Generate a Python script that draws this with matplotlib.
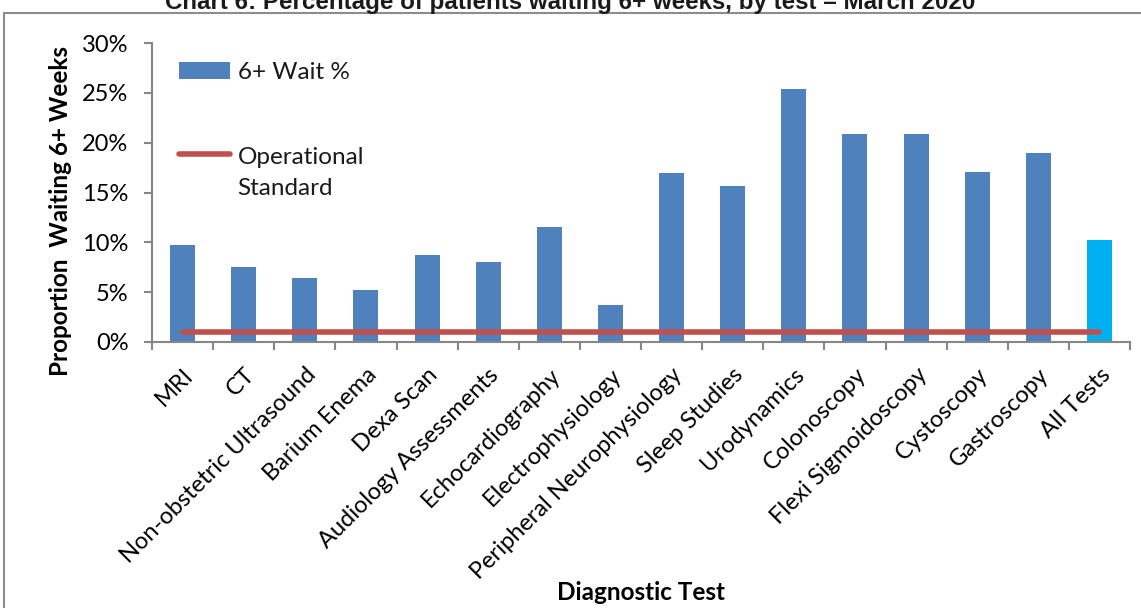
import matplotlib.pyplot as plt
from matplotlib.patches import Rectangle
from matplotlib.ticker import FuncFormatter, FixedLocator
from matplotlib.legend_handler import HandlerLine2D

tests = ["MRI", "CT", "Non-obstetric Ultrasound", "Barium Enema", "Dexa Scan",
         "Audiology Assessments", "Echocardiography", "Electrophysiology",
         "Peripheral Neurophysiology", "Sleep Studies", "Urodynamics",
         "Colonoscopy", "Flexi Sigmoidoscopy", "Cystoscopy", "Gastroscopy",
         "All Tests"]
wait_pct = [9.7, 7.5, 6.4, 5.2, 8.7, 8.0, 11.5, 3.7, 17.0, 15.7, 25.4,
            20.9, 20.9, 17.1, 19.0, 10.2]
standard = [1.0] * len(tests)


class RaisedLine(HandlerLine2D):
    # put the legend line level with the first line of a two-line label
    def __init__(self, shift, **kw):
        super().__init__(**kw)
        self.shift = shift

    def create_artists(self, legend, orig_handle, xdescent, ydescent, width,
                       height, fontsize, trans):
        return super().create_artists(legend, orig_handle, xdescent,
                                      ydescent - self.shift * fontsize, width,
                                      height, fontsize, trans)


plt.rcParams['font.family'] = ['Lato', 'DejaVu Sans']
plt.rcParams['text.color'] = '#1a1a1a'

fig = plt.figure(figsize=(11.41, 6.08), dpi=100)
ax = fig.add_axes([152 / 1141, 1 - 342 / 608, (1130 - 152) / 1141, (342 - 43) / 608])

# outer chart frame (extends past the image edges)
fig.patches.append(Rectangle((4 / 1141, -0.1), 1.1, 1 - 13 / 608 + 0.1,
                             transform=fig.transFigure, fill=False,
                             edgecolor='#8c8c8c', linewidth=1.5))

x = list(range(len(tests)))
colors = ['#4F81BD'] * (len(tests) - 1) + ['#00B0F0']
bars = ax.bar(x, wait_pct, width=0.41, color=colors, label="6+ Wait %", zorder=2)
line, = ax.plot(x, standard, color='#C0504D', linewidth=4, solid_capstyle='round',
                label="Operational\nStandard", zorder=3)

ax.set_xlim(-0.5, len(tests) - 0.5)
ax.set_ylim(0, 30)
ax.set_yticks(range(0, 31, 5))
ax.yaxis.set_major_formatter(FuncFormatter(lambda v, p: f"{int(v)}%"))
ax.set_xticks(x)
ax.set_xticklabels(tests, rotation=45, ha='right', rotation_mode='anchor',
                   fontsize=17)
ax.xaxis.set_minor_locator(FixedLocator([i - 0.5 for i in range(len(tests) + 1)]))
ax.tick_params(axis='x', which='major', length=0, pad=16)
ax.tick_params(axis='x', which='minor', length=6, color='#868686', width=1.5)
ax.tick_params(axis='y', length=6, color='#868686', width=1.5, labelsize=17,
               direction='out', pad=11)

for s in ['top', 'right']:
    ax.spines[s].set_visible(False)
for s in ['left', 'bottom']:
    ax.spines[s].set_color('#868686')
    ax.spines[s].set_linewidth(1.5)

ax.set_ylabel("Proportion  Waiting 6+ Weeks", fontsize=17.5, fontweight='bold')
ax.yaxis.set_label_coords(-(152 - 72) / 978, (342 - 211) / 299)
ax.set_xlabel("Diagnostic Test", fontsize=17.5, fontweight='bold', va='center')
ax.xaxis.set_label_coords(0.5, -(593 - 342) / 299)

leg = ax.legend(handles=[bars, line], loc='upper left',
                bbox_to_anchor=(0.028, 0.935), frameon=False, borderpad=0,
                borderaxespad=0, fontsize=17.5, handlelength=2.1,
                labelspacing=2.6, handletextpad=0.3,
                handler_map={line: RaisedLine(1.56)})
leg.get_texts()[1].set_linespacing(1.6)

fig.text(0.5, 1 - 2 / 608, "Chart 6: Percentage of patients waiting 6+ weeks, by test \u2013 March 2020",
         ha='center', va='center', fontsize=17.4, fontweight='bold',
         family=['Liberation Sans', 'DejaVu Sans'])

fig.savefig("out.png", dpi=100)
